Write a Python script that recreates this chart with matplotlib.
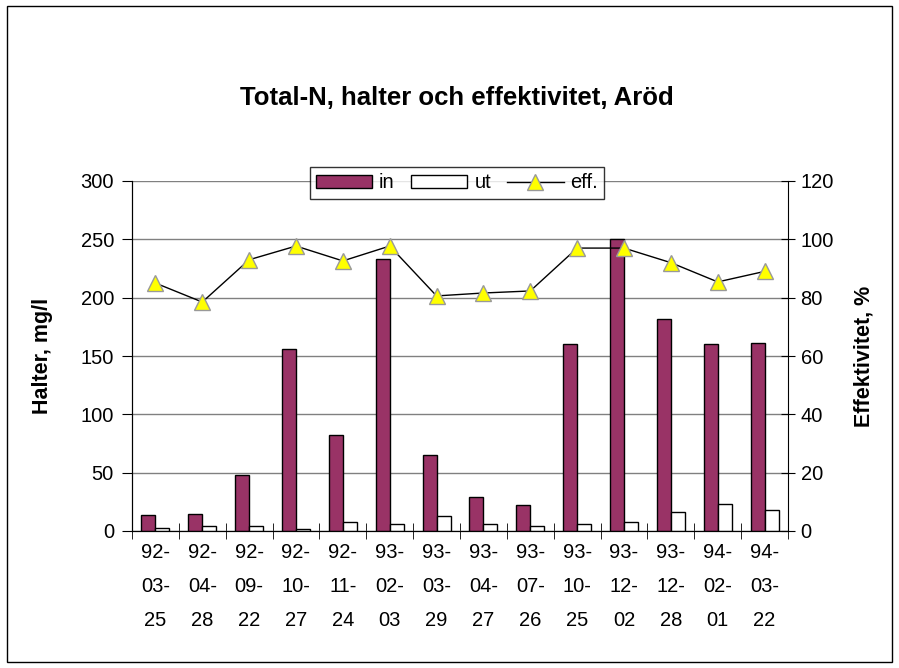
import numpy as np
import matplotlib
matplotlib.use("Agg")
import matplotlib.pyplot as plt
from matplotlib.patches import Rectangle

plt.rcParams['font.family'] = ['Liberation Sans', 'DejaVu Sans']

# Data
dates = ['92-\n03-\n25', '92-\n04-\n28', '92-\n09-\n22', '92-\n10-\n27', '92-\n11-\n24',
         '93-\n02-\n03', '93-\n03-\n29', '93-\n04-\n27', '93-\n07-\n26', '93-\n10-\n25',
         '93-\n12-\n02', '93-\n12-\n28', '94-\n02-\n01', '94-\n03-\n22']
halt_in = [14, 15, 48, 156, 82, 233, 65, 29, 22, 160, 250, 182, 160, 161]
halt_ut = [2.5, 4, 4, 2, 7.5, 5.7, 12.6, 5.7, 4, 5.7, 7.5, 16, 23, 18]
eff = [85, 78.5, 93, 97.7, 92.6, 97.7, 80.6, 81.6, 82.3, 97, 97, 92, 85.4, 89]

fig = plt.figure(figsize=(8.99, 6.68), dpi=100)
fig.patches.append(Rectangle((7 / 899, 6 / 668), 885 / 899, 656 / 668, transform=fig.transFigure,
                             fill=False, edgecolor='black', linewidth=1))

ax = fig.add_axes([132 / 899, 137 / 668, 656 / 899, 350 / 668])
x = np.arange(len(dates))
w = 0.3
b1 = ax.bar(x - w / 2, halt_in, w, color='#993366', edgecolor='black', linewidth=1, label='in', zorder=3)
b2 = ax.bar(x + w / 2, halt_ut, w, color='white', edgecolor='black', linewidth=1, label='ut', zorder=3)

ax.set_xlim(-0.5, len(dates) - 0.5)
ax.set_ylim(0, 300)
ax.set_yticks(range(0, 301, 50))
ax.yaxis.grid(True, color='#808080', linewidth=1)
ax.set_axisbelow(True)
ax.set_xticks(x)
ax.set_xticklabels(dates, fontsize=14.5, linespacing=2.0)
ax.set_xticks(np.arange(-0.5, len(dates), 1), minor=True)
ax.tick_params(axis='x', which='major', length=0, pad=9)
ax.tick_params(axis='x', which='minor', length=12, direction='inout', color='black')
ax.tick_params(axis='y', labelsize=14.5, direction='out', length=7, pad=6)
ax.set_ylabel('Halter, mg/l', fontsize=15.5, fontweight='bold', labelpad=20)
ax.spines['top'].set_visible(False)
ax.spines['right'].set_visible(False)

ax2 = ax.twinx()
l1, = ax2.plot(x, eff, color='black', linewidth=1, marker='^', markersize=11,
               markerfacecolor='#FFFF00', markeredgecolor='#999999', label='eff.', zorder=4)
ax2.set_ylim(0, 120)
ax2.set_yticks(range(0, 121, 20))
ax2.tick_params(axis='y', labelsize=14.5, direction='inout', length=10, pad=4)
ax2.set_ylabel('Effektivitet, %', fontsize=15.5, fontweight='bold', labelpad=14)
ax2.spines['top'].set_visible(False)

fig.text(457 / 899, 1 - 98 / 668, 'Total-N, halter och effektivitet, Aröd',
         ha='center', va='center', fontsize=18.5, fontweight='bold')

leg = fig.legend(handles=[b1, b2, l1], loc='center', bbox_to_anchor=(457 / 899, 1 - 183 / 668),
                 ncol=3, fontsize=14.5, frameon=True, fancybox=False, edgecolor='black',
                 handlelength=2.8, handleheight=0.6, handletextpad=0.35, columnspacing=0.8,
                 borderpad=0.3, borderaxespad=0)
leg.get_frame().set_linewidth(1)

fig.savefig('out.png', dpi=100)
